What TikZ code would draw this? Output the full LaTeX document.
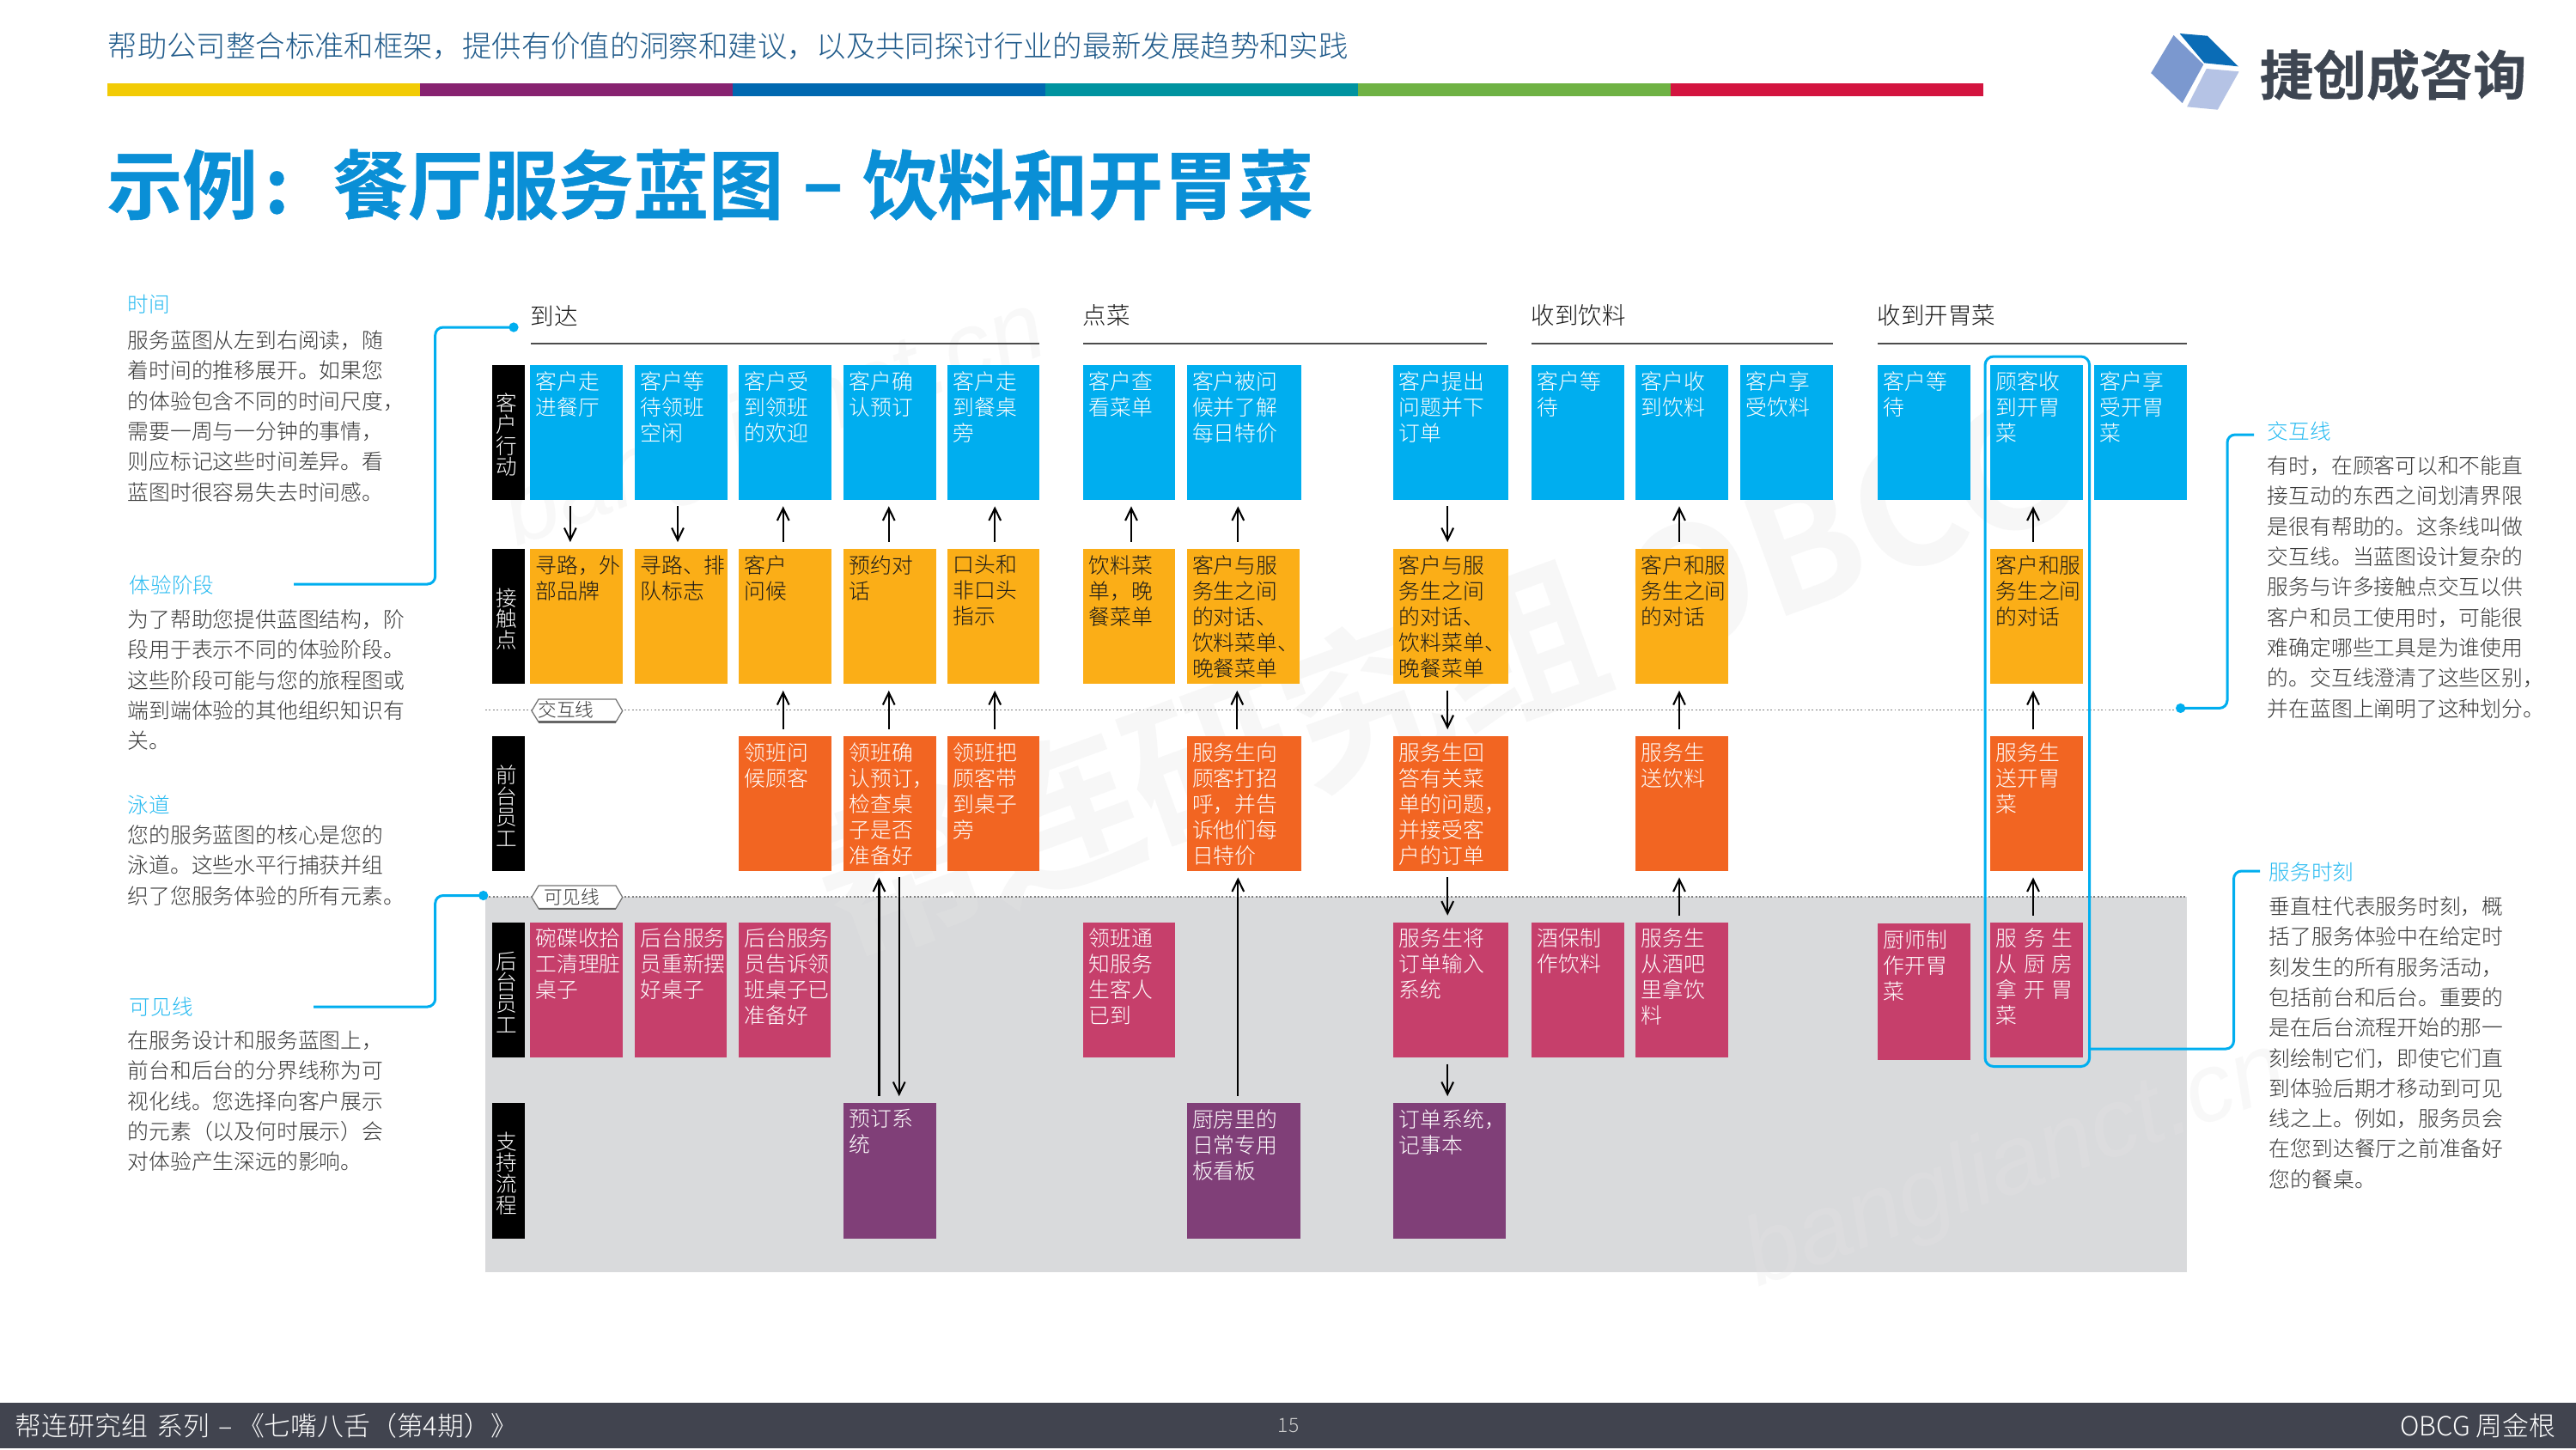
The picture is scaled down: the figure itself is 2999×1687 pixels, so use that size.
\documentclass[tikz,border=0pt]{standalone}
\usepackage{fontspec}
\usetikzlibrary{arrows.meta,calc,fit}
\setmainfont{Noto Sans CJK SC}[UprightFont=* Light,BoldFont=* Bold]
\newfontfamily\heavyf{Noto Sans CJK SC}[UprightFont=* Bold,FakeBold=0.6]
\newfontfamily\wmfont{Liberation Sans}
\definecolor{cBlue}{HTML}{00AEEF}
\definecolor{cAmber}{HTML}{FBAE17}
\definecolor{cOrange}{HTML}{F26522}
\definecolor{cCrimson}{HTML}{C63F6B}
\definecolor{cPurple}{HTML}{803F78}
\definecolor{cGrey}{HTML}{D9DADC}
\definecolor{cBar}{HTML}{41444F}
\definecolor{cTitle}{HTML}{0A8FD6}
\definecolor{cSub}{HTML}{1F5A8A}
\definecolor{cBody}{HTML}{383838}
\definecolor{cLogo}{HTML}{3E4652}
\definecolor{HTMLyellow}{HTML}{F2CB05}
\definecolor{HTMLpurple}{HTML}{872270}
\definecolor{HTMLblue}{HTML}{0068B0}
\definecolor{HTMLteal}{HTML}{0093A0}
\definecolor{HTMLgreen}{HTML}{6FB244}
\definecolor{HTMLred}{HTML}{D3143F}
\definecolor{HTMLlogoa}{HTML}{0A6CB6}
\definecolor{HTMLlogob}{HTML}{7B98CF}
\definecolor{HTMLlogoc}{HTML}{B5C3E5}
\newcommand{\boxf}{\fontsize{5.95}{7.2}\selectfont}
\newcommand{\sidef}{\fontsize{5.95}{8.47}\selectfont}
\newcommand{\lanef}{\fontsize{5.9}{5.9}\selectfont}
\tikzset{
  x=0.24pt,y=-0.24pt,
  txt/.style={inner sep=0pt,align=left,anchor=north west,font=\boxf},
  bluebox/.style={fill=cBlue},     bluetext/.style={txt,text=white},
  amberbox/.style={fill=cAmber},   ambertext/.style={txt,text=black!90},
  orangebox/.style={fill=cOrange}, orangetext/.style={txt,text=white},
  crimsonbox/.style={fill=cCrimson},crimsontext/.style={txt,text=white},
  purplebox/.style={fill=cPurple}, purpletext/.style={txt,text=white},
  lanebox/.style={fill=black},
  lanetext/.style={inner sep=0pt,align=center,font=\lanef,text=white},
  flowdown/.style={line width=.5pt,-{Straight Barb[length=3.4pt,width=3.3pt]},shorten >=1.7pt,shorten <=1.7pt},
  flowup/.style={line width=.5pt,{Straight Barb[length=3.4pt,width=3.3pt]}-,shorten >=1.7pt,shorten <=1.7pt},
  callout/.style={draw=cBlue,line width=.72pt,rounded corners=2.2pt},
  dotend/.style={circle,fill=cBlue,inner sep=0pt,minimum size=2.7pt},
  sidehead/.style={inner sep=0pt,anchor=north west,font=\fontsize{5.9}{7}\selectfont,text=cBlue!85!white},
  sidebody/.style={inner sep=0pt,align=left,anchor=north west,font=\sidef,text=cBody},
  phase/.style={inner sep=0pt,anchor=west,font=\fontsize{6.6}{8}\selectfont,text=black!90},
  phaseline/.style={draw=black!70,line width=.3pt},
  dotline/.style={draw=black!50,line width=.3pt,dash pattern=on .45pt off .6pt},
  tagtext/.style={inner sep=0pt,font=\fontsize{5.2}{6}\selectfont,text=black!80},
  wmbig/.style={inner sep=0pt,rotate=20,text=black!10,text opacity=.3,font=\bfseries\fontsize{46}{50}\selectfont},
  wmsmall/.style={inner sep=0pt,rotate=20,text=black!10,text opacity=.25,font=\wmfont\itshape\fontsize{27}{30}\selectfont},
  tagshape/.style={fill=white,draw=black!55,line width=.3pt},
}
% name, colour family, x1, y1, x2, y2, text
\newcommand{\bx}[7]{%
  \node[fit={(#3,#4)(#5,#6)},inner sep=0pt,#2box] (#1) {};
  \node[#2text] (#1t) at ($(#1.north west)+(6.5,7.5)$) {#7};}
% name, y1, y2, text
\newcommand{\lane}[4]{%
  \node[fit={(573,#2)(610.5,#3)},inner sep=0pt,lanebox] (#1) {};
  \node[lanetext] (#1t) at ($(#1.center)+(-2,3)$) {#4};}
% upper node, lower node, x offset, style
\newcommand{\conn}[4]{%
  \coordinate (p) at ($(#1.south)+(#3,0)$);
  \draw[#4] (p) -- (p |- #2.north);}
\newcommand{\gp}{\hspace{1.9pt}}
\begin{document}
\begin{tikzpicture}
\useasboundingbox (0,0) rectangle (2999,1687);
\fill[white] (0,0) rectangle (2999,1687);

% grey back-stage area
\fill[cGrey] (565,1044) rectangle (2546,1481);

% watermarks
\node[wmbig] (wm1) at (1680,785) {帮连研究组 OBCG};
\node[wmsmall] (wm2) at (903,496) {banglianct.cn};
\node[wmsmall] (wm3) at (2348,1358) {banglianct.cn};

% header
\node[inner sep=0pt,anchor=west,text=cSub,font=\fontsize{8.25}{10}\selectfont] (subtitle) at (125,54)
  {帮助公司整合标准和框架，提供有价值的洞察和建议，以及共同探讨行业的最新发展趋势和实践};
\fill[HTMLyellow] (125,97) rectangle (489,111.5);
\fill[HTMLpurple] (489,97) rectangle (853,111.5);
\fill[HTMLblue]   (853,97) rectangle (1217,111.5);
\fill[HTMLteal]   (1217,97) rectangle (1581,111.5);
\fill[HTMLgreen]  (1581,97) rectangle (1945,111.5);
\fill[HTMLred]    (1945,97) rectangle (2309,111.5);
\node[inner sep=0pt,anchor=west,text=cTitle,font=\heavyf\fontsize{21}{24}\selectfont] (title) at (124,215)
  {示例\makebox[21pt][l]{\hspace{2pt}:}餐厅服务蓝图\makebox[22pt]{\raisebox{1pt}{–}}饮料和开胃菜};

% logo
\fill[HTMLlogoa] (2537.6,39) -- (2569.7,41.7) -- (2605.8,77.3) -- (2566.2,73.3) -- cycle;
\fill[HTMLlogob] (2530.5,41) -- (2565.3,75) -- (2540.7,120) -- (2504.2,85) -- cycle;
\fill[HTMLlogoc] (2568.8,80) -- (2606.7,83.3) -- (2581.8,127.7) -- (2546.1,124.3) -- cycle;
\node[inner sep=0pt,anchor=west,text=cLogo,font=\heavyf\fontsize{14.9}{17}\selectfont] (logotext) at (2630,87) {捷创成咨询};

% phases
\node[phase] (ph1) at (617,367.5) {到达};
\node[phase] (ph2) at (1260,367.5) {点菜};
\node[phase] (ph3) at (1782,367.5) {收到饮料};
\node[phase] (ph4) at (2185,367.5) {收到开胃菜};
\draw[phaseline] (618,400) -- (1210,400);
\draw[phaseline] (1261,400) -- (1730.6,400);
\draw[phaseline] (1783,400) -- (2134,400);
\draw[phaseline] (2186,400) -- (2546,400);

% lines of interaction and visibility
\draw[dotline] (565,826.7) -- (2546,826.7);
\draw[dotline] (565,1044) -- (2546,1044);
\filldraw[tagshape] (619,827.5) -- (627,814) -- (717,814) -- (724.7,827.5) -- (717,840.5) -- (627,840.5) -- cycle;
\draw[black!60,line width=.5pt] (627,840.5) -- (717,840.5);
\node[tagtext] (tag1) at (659,826.5) {交互线};
\filldraw[tagshape] (619,1044.5) -- (627,1031) -- (717,1031) -- (724.7,1044.5) -- (717,1057.6) -- (627,1057.6) -- cycle;
\draw[black!60,line width=.5pt] (627,1057.6) -- (717,1057.6);
\node[tagtext] (tag2) at (665.5,1044) {可见线};

% lanes
\lane{l1}{425}{581.5}{客\\户\\行\\动}
\lane{l2}{639}{796}{接\\触\\点}
\lane{l3}{857}{1013.5}{前\\台\\员\\工}
\lane{l4}{1073.6}{1230.6}{后\\台\\员\\工}
\lane{l5}{1284}{1441.7}{支\\持\\流\\程}

% row 1
\bx{a1}{blue}{617}{425}{724.7}{581.5}{客户走\\进餐厅}
\bx{a2}{blue}{739}{425}{847}{581.5}{客户等\\待领班\\空闲}
\bx{a3}{blue}{860}{425}{967.5}{581.5}{客户受\\到领班\\的欢迎}
\bx{a4}{blue}{982}{425}{1089.5}{581.5}{客户确\\认预订}
\bx{a5}{blue}{1103}{425}{1210.4}{581.5}{客户走\\到餐桌\\旁}
\bx{a6}{blue}{1261}{425}{1368}{581.5}{客户查\\看菜单}
\bx{a7}{blue}{1381.6}{425}{1515}{581.5}{客户被问\\候并了解\\每日特价}
\bx{a8}{blue}{1622.4}{425}{1756}{581.5}{客户提出\\问题并下\\订单}
\bx{a9}{blue}{1783}{425}{1891}{581.5}{客户等\\待}
\bx{a10}{blue}{1904}{425}{2012}{581.5}{客户收\\到饮料}
\bx{a11}{blue}{2026}{425}{2134}{581.5}{客户享\\受饮料}
\bx{a12}{blue}{2186}{425}{2294}{581.5}{客户等\\待}
\bx{a13}{blue}{2317}{425}{2425}{581.5}{顾客收\\到开胃\\菜}
\bx{a14}{blue}{2438}{425}{2546}{581.5}{客户享\\受开胃\\菜}

% row 2
\bx{b1}{amber}{617}{639}{724.7}{796}{寻路，外\\部品牌}
\bx{b2}{amber}{739}{639}{847}{796}{寻路、排\\队标志}
\bx{b3}{amber}{860}{639}{967.5}{796}{客户\\问候}
\bx{b4}{amber}{982}{639}{1089.5}{796}{预约对\\话}
\bx{b5}{amber}{1103}{639}{1210.4}{796}{口头和\\非口头\\指示}
\bx{b6}{amber}{1261}{639}{1368}{796}{饮料菜\\单，晚\\餐菜单}
\bx{b7}{amber}{1381.6}{639}{1513}{796}{客户与服\\务生之间\\的对话、\\饮料菜单、\\晚餐菜单}
\bx{b8}{amber}{1622.4}{639}{1756}{796}{客户与服\\务生之间\\的对话、\\饮料菜单、\\晚餐菜单}
\bx{b10}{amber}{1904}{639}{2012}{796}{客户和服\\务生之间\\的对话}
\bx{b13}{amber}{2317}{639}{2425}{796}{客户和服\\务生之间\\的对话}

% row 3
\bx{c3}{orange}{860}{857}{967.5}{1013.5}{领班问\\候顾客}
\bx{c4}{orange}{982}{857}{1089.5}{1013.5}{领班确\\认预订，\\检查桌\\子是否\\准备好}
\bx{c5}{orange}{1103}{857}{1210.4}{1013.5}{领班把\\顾客带\\到桌子\\旁}
\bx{c7}{orange}{1381.6}{857}{1515}{1013.5}{服务生向\\顾客打招\\呼，并告\\诉他们每\\日特价}
\bx{c8}{orange}{1622.4}{857}{1756}{1013.5}{服务生回\\答有关菜\\单的问题，\\并接受客\\户的订单}
\bx{c10}{orange}{1904}{857}{2012}{1013.5}{服务生\\送饮料}
\bx{c13}{orange}{2317}{857}{2425}{1013.5}{服务生\\送开胃\\菜}

% row 4
\bx{d1}{crimson}{617}{1073.6}{725}{1230.6}{碗碟收拾\\工清理脏\\桌子}
\bx{d2}{crimson}{739}{1073.6}{846}{1230.6}{后台服务\\员重新摆\\好桌子}
\bx{d3}{crimson}{860}{1073.6}{967}{1230.6}{后台服务\\员告诉领\\班桌子已\\准备好}
\bx{d6}{crimson}{1261}{1073.6}{1368}{1230.6}{领班通\\知服务\\生客人\\已到}
\bx{d8}{crimson}{1622.4}{1073.6}{1756}{1230.6}{服务生将\\订单输入\\系统}
\bx{d9}{crimson}{1783}{1073.6}{1891}{1230.6}{酒保制\\作饮料}
\bx{d10}{crimson}{1904}{1073.6}{2012}{1230.6}{服务生\\从酒吧\\里拿饮\\料}
\bx{d12}{crimson}{2186}{1075}{2294}{1233.6}{厨师制\\作开胃\\菜}
\bx{d13}{crimson}{2317}{1073.6}{2425}{1230.6}{服\gp 务\gp 生\\从\gp 厨\gp 房\\拿\gp 开\gp 胃\\菜}

% row 5
\bx{e4}{purple}{982}{1284}{1089.5}{1441.7}{预订系\\统}
\bx{e7}{purple}{1381.6}{1284}{1513.5}{1441.7}{厨房里的\\日常专用\\板看板}
\bx{e8}{purple}{1622.4}{1284}{1753}{1441.7}{订单系统，\\记事本}

% connectors
\conn{a1}{b1}{-7}{flowdown}
\conn{a2}{b2}{-4}{flowdown}
\conn{a3}{b3}{-2}{flowup}
\conn{a4}{b4}{-1}{flowup}
\conn{a5}{b5}{1.5}{flowup}
\conn{a6}{b6}{2.5}{flowup}
\conn{a7}{b7}{-7}{flowup}
\conn{a8}{b8}{-4}{flowdown}
\conn{a10}{b10}{-3}{flowup}
\conn{a13}{b13}{-4}{flowup}
\conn{b3}{c3}{-2}{flowup}
\conn{b4}{c4}{-1}{flowup}
\conn{b5}{c5}{1.5}{flowup}
\conn{b7}{c7}{-7}{flowup}
\conn{b8}{c8}{-4}{flowdown}
\conn{b10}{c10}{-3}{flowup}
\conn{b13}{c13}{-4}{flowup}
\conn{c4}{e4}{-12.3}{flowup}
\conn{c4}{e4}{11}{flowdown}
\conn{c7}{e7}{-7}{flowup}
\conn{c8}{d8}{-4}{flowdown}
\conn{c10}{d10}{-3}{flowup}
\conn{c13}{d13}{-4}{flowup}
\conn{d8}{e8}{-4}{flowdown}

% highlighted moment column
\node[fit={(2311,415)(2432.6,1241.5)},inner sep=0pt,draw=cBlue,line width=.72pt,rounded corners=2.4pt] (hl) {};

% left notes
\node[sidehead] (h1) at (148,342) {时间};
\node[sidebody] (n1) at (148,384) {服务蓝图从左到右阅读，随\\着时间的推移展开。如果您\\的体验包含不同的时间尺度，\\需要一周与一分钟的事情，\\则应标记这些时间差异。看\\蓝图时很容易失去时间感。};
\node[sidehead] (h2) at (150,669) {体验阶段};
\node[sidebody] (n2) at (148,709) {为了帮助您提供蓝图结构，阶\\段用于表示不同的体验阶段。\\这些阶段可能与您的旅程图或\\端到端体验的其他组织知识有\\关。};
\node[sidehead] (h3) at (148,925) {泳道};
\node[sidebody] (n3) at (148,960) {您的服务蓝图的核心是您的\\泳道。这些水平行捕获并组\\织了您服务体验的所有元素。};
\node[sidehead] (h4) at (150,1160) {可见线};
\node[sidebody] (n4) at (148,1199) {在服务设计和服务蓝图上，\\前台和后台的分界线称为可\\视化线。您选择向客户展示\\的元素（以及何时展示）会\\对体验产生深远的影响。};

% right notes
\node[sidehead] (h5) at (2639,490) {交互线};
\node[sidebody] (n5) at (2639,530) {有时，在顾客可以和不能直\\接互动的东西之间划清界限\\是很有帮助的。这条线叫做\\交互线。当蓝图设计复杂的\\服务与许多接触点交互以供\\客户和员工使用时，可能很\\难确定哪些工具是为谁使用\\的。交互线澄清了这些区别，\\并在蓝图上阐明了这种划分。};
\node[sidehead] (h6) at (2641,1003) {服务时刻};
\node[sidebody] (n6) at (2641,1043) {垂直柱代表服务时刻，概\\括了服务体验中在给定时\\刻发生的所有服务活动，\\包括前台和后台。重要的\\是在后台流程开始的那一\\刻绘制它们，即使它们直\\到体验后期才移动到可见\\线之上。例如，服务员会\\在您到达餐厅之前准备好\\您的餐桌。};

% callouts
\node[dotend] (dTime) at (598,381) {};
\coordinate (eTime) at (342,680);
\coordinate (xLeft) at (506.7,0);
\draw[callout] (dTime.center) -- (dTime.center -| xLeft) -- (eTime -| xLeft) -- (eTime);
\node[dotend] (dVis) at (562.7,1042.5) {};
\coordinate (eVis) at (365,1172);
\draw[callout] (dVis.center) -- (dVis.center -| xLeft) -- (eVis -| xLeft) -- (eVis);
\node[dotend] (dInt) at (2538.6,824.4) {};
\coordinate (eInt) at (2624,506);
\coordinate (xRight) at (2593,0);
\draw[callout] (dInt.center) -- (dInt.center -| xRight) -- (eInt -| xRight) -- (eInt);
\coordinate (sMom) at (hl.east |- 0,1221);
\coordinate (eMom) at (2631,1014);
\coordinate (xRightB) at (2600.5,0);
\draw[callout] (sMom) -- (sMom -| xRightB) -- (eMom -| xRightB) -- (eMom);

% footer
\fill[cBar] (0,1632.5) rectangle (2999,1686);
\node[inner sep=0pt,anchor=west,text=white,font=\fontsize{7.4}{9}\selectfont] (ftl) at (17,1660) {帮连研究组\hspace{2.5pt}系列\hspace{2.5pt}–\hspace{1.5pt}《七嘴八舌（第4期）》};
\node[inner sep=0pt,text=white!80!black,font=\fontsize{5.5}{7}\selectfont] (ftc) at (1500,1660) {15};
\node[inner sep=0pt,anchor=east,text=white,font=\fontsize{7.4}{9}\selectfont] (ftr) at (2976,1660) {OBCG 周金根};
\end{tikzpicture}
\end{document}
